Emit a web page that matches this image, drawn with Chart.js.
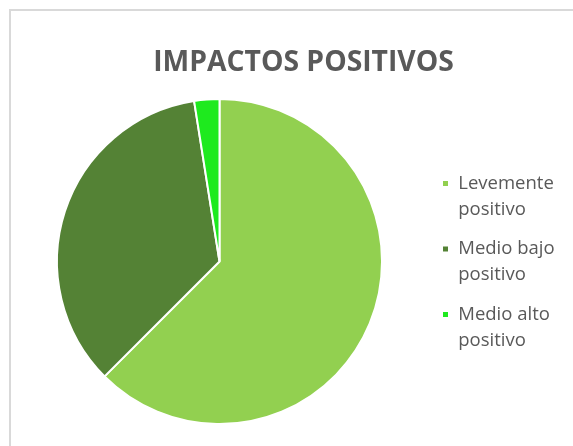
<!DOCTYPE html>
<html>
<head>
<meta charset="utf-8">
<script src="https://cdn.jsdelivr.net/npm/chart.js@4/dist/chart.umd.min.js"></script>
<style>
  html, body { margin: 0; padding: 0; background: #ffffff; overflow: hidden; width: 573px; height: 446px; }
  #frame { position: absolute; left: 9px; top: 9px; width: 700px; height: 700px;
           border-left: 2px solid #d9d9d9; border-top: 2px solid #d9d9d9; box-sizing: border-box; }
  #c { position: absolute; left: 0; top: 0; }
</style>
</head>
<body>
<div id="frame"></div>
<canvas id="c" width="597" height="446"></canvas>
<script>
// ---- data ----
const titleText = 'IMPACTOS POSITIVOS';
const categories = [
  ['Levemente', 'positivo'],
  ['Medio bajo', 'positivo'],
  ['Medio alto', 'positivo']
];
const values = [25, 14, 1];
const sliceColors = ['#92D050', '#548235', '#1EEA1E'];

// ---- layout helpers ----
const LEGEND_WIDTH = 168;
const LEGEND_SHIFT = 9; // moves legend block down by half this amount
const legendWidthPlugin = {
  id: 'legendWidth',
  beforeLayout(chart) {
    const lg = chart.legend;
    if (lg && !lg._fixedWidth) {
      const origFit = lg.fit;
      lg.fit = function () {
        origFit.call(this);
        this.width = LEGEND_WIDTH;
        if (this.columnSizes && this.columnSizes[0]) this.columnSizes[0].height -= LEGEND_SHIFT;
      };
      lg._fixedWidth = true;
    }
  }
};

new Chart(document.getElementById('c'), {
  type: 'pie',
  data: {
    labels: categories,
    datasets: [{
      data: values,
      backgroundColor: sliceColors,
      borderColor: '#ffffff',
      borderWidth: 2,
      hoverOffset: 0
    }]
  },
  options: {
    responsive: false,
    animation: false,
    devicePixelRatio: 1,
    layout: { padding: { left: 10, right: 0, top: 0, bottom: 21 } },
    plugins: {
      tooltip: { enabled: false },
      title: {
        display: true,
        text: titleText,
        color: '#595959',
        font: { family: '"Open Sans", sans-serif', size: 28.3, weight: 'bold', lineHeight: 1.2 },
        padding: { top: 46, bottom: 18 }
      },
      legend: {
        display: true,
        position: 'right',
        align: 'center',
        fullSize: false,
        labels: {
          color: '#595959',
          boxWidth: 7,
          boxHeight: 7,
          padding: 13,
          font: { family: '"Open Sans", sans-serif', size: 18.5, lineHeight: 1.42 }
        }
      }
    }
  },
  plugins: [legendWidthPlugin]
});
</script>
</body>
</html>
